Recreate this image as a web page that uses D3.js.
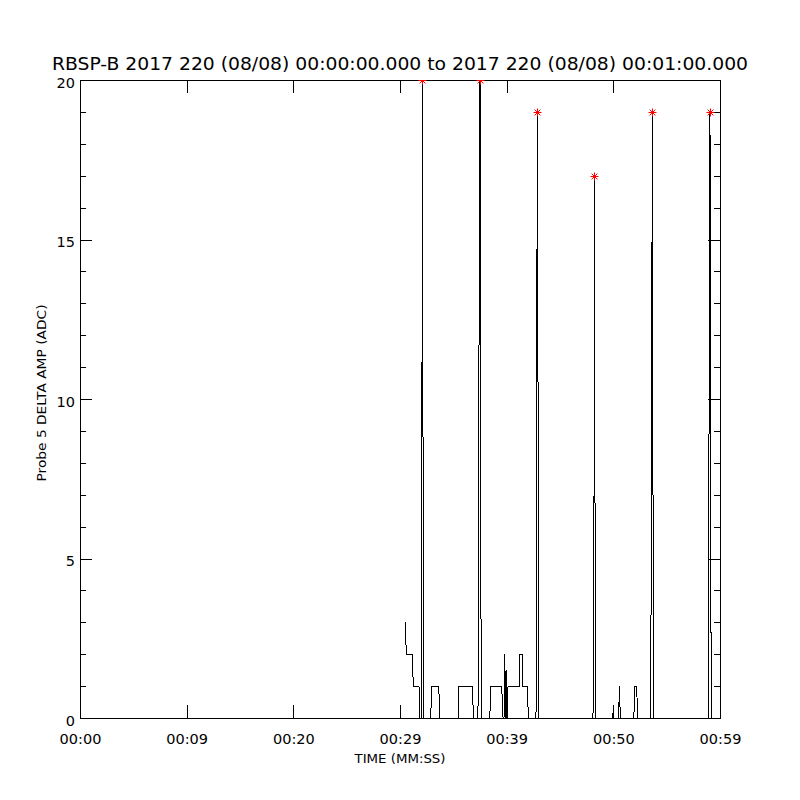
<!DOCTYPE html>
<html>
<head>
<meta charset="utf-8">
<script src="https://cdn.jsdelivr.net/npm/d3@7"></script>
<style>
  body { margin: 0; background: #fff; }
  text { font-family: "DejaVu Sans", sans-serif; fill: #000; }
</style>
</head>
<body>
<div id="chart"></div>
<script>
// time in seconds since 00:00:00 and probe 5 delta amplitude (ADC), vertices
const times = [
  30.50, 30.59, 31.15, 31.25, 31.78, 31.84,
  31.99, 32.03, 32.08, 32.10, 32.19, 32.23,
  32.88, 32.97, 33.63, 33.75,
  35.44, 35.48, 36.78, 36.89,
  37.31, 37.37, 37.46, 37.56, 37.59, 37.63,
  38.42, 38.50, 39.53, 39.66, 39.75, 39.80, 39.86, 39.94, 39.99, 40.13,
  41.16, 41.20, 41.47, 41.51, 41.91, 42.05,
  42.75, 42.83, 42.87, 42.92, 42.98,
  48.09, 48.13, 48.19, 48.22, 48.28, 48.33,
  49.95, 50.00, 50.04,
  50.48, 50.53, 50.58, 50.65,
  51.92, 51.97, 52.01, 52.17, 52.24, 52.29,
  53.47, 53.50, 53.58, 53.65, 53.72, 53.77, 53.81,
  58.88, 58.93, 59.03, 59.06, 59.12, 59.16, 59.21, 59.25
];
const amps = [
  3, 2, 2, 1, 1, 0,
  0, 8, 12.5, 20, 2.5, 0,
  0, 1, 1, 0,
  0, 1, 1, 0,
  0, 5.5, 20, 20, 3.5, 0,
  0, 1, 1, 0, 0, 2, 0, 1.5, 0, 1,
  1, 2, 2, 1, 1, 0,
  0, 12, 19, 15, 0,
  0, 1.3, 7, 17, 7, 0,
  0, 0.4, 0,
  0, 0.5, 1, 0,
  0, 0.5, 1, 1, 0.5, 0,
  0, 0.5, 7, 19, 7, 1.5, 0,
  0, 5, 14.5, 19, 5, 2.5, 0, 0
];

// peaks flagged with red asterisks
const peakTimes = [32.10, 37.50, 42.87, 48.22, 53.65, 59.06];
const peakAmps = [20, 20, 19, 17, 19, 19];

const xTickSeconds = [0, 10, 20, 30, 40, 50, 60];
const xTickLabels = ["00:00", "00:09", "00:20", "00:29", "00:39", "00:50", "00:59"];
const yTicks = [0, 5, 10, 15, 20];

const width = 800;
const height = 800;
const margin = { top: 80, right: 80, bottom: 82, left: 80 };

const svg = d3.select("#chart")
  .append("svg")
  .attr("width", width)
  .attr("height", height);

const x = d3.scaleLinear()
  .domain([0, 60])
  .range([margin.left, width - margin.right]);

const y = d3.scaleLinear()
  .domain([0, 20])
  .range([height - margin.bottom, margin.top]);

svg.append("defs").append("clipPath")
  .attr("id", "plot-clip")
  .append("rect")
  .attr("x", margin.left)
  .attr("y", margin.top)
  .attr("width", width - margin.left - margin.right)
  .attr("height", height - margin.top - margin.bottom);

// axes: ticks point inward like the IDL plot
const xAxisBottom = svg.append("g")
  .attr("transform", `translate(0,${height - margin.bottom})`)
  .call(d3.axisBottom(x).tickValues(xTickSeconds)
    .tickFormat((d, i) => xTickLabels[i]).tickSize(-13).tickPadding(16));

const xAxisTop = svg.append("g")
  .attr("transform", `translate(0,${margin.top})`)
  .call(d3.axisTop(x).tickValues(xTickSeconds).tickFormat("").tickSize(-13));

const yAxisLeft = svg.append("g")
  .attr("transform", `translate(${margin.left},0)`)
  .call(d3.axisLeft(y).tickValues(yTicks).tickSize(-12).tickPadding(5));

const yMinorLeft = svg.append("g")
  .attr("transform", `translate(${margin.left},0)`)
  .call(d3.axisLeft(y).ticks(20).tickFormat("").tickSize(-6));

const yAxisRight = svg.append("g")
  .attr("transform", `translate(${width - margin.right},0)`)
  .call(d3.axisRight(y).tickValues(yTicks).tickFormat("").tickSize(-12));

const yMinorRight = svg.append("g")
  .attr("transform", `translate(${width - margin.right},0)`)
  .call(d3.axisRight(y).ticks(20).tickFormat("").tickSize(-6));

[xAxisBottom, xAxisTop, yAxisLeft, yMinorLeft, yAxisRight, yMinorRight].forEach(g => {
  g.select(".domain").remove();
  g.selectAll("line").attr("stroke", "#000").attr("shape-rendering", "crispEdges");
  g.selectAll("text").attr("font-family", "DejaVu Sans").attr("font-size", 14.5).attr("fill", "#000");
});

// y labels sit a touch below their ticks in the original
yAxisLeft.selectAll("text").attr("dy", "0.5em");

// plot frame
svg.append("rect")
  .attr("x", margin.left + 0.5)
  .attr("y", margin.top + 0.5)
  .attr("width", width - margin.left - margin.right)
  .attr("height", height - margin.top - margin.bottom)
  .attr("fill", "none")
  .attr("stroke", "#000")
  .attr("shape-rendering", "crispEdges");

const line = d3.line()
  .x((d, i) => x(times[i]))
  .y(d => y(d));

svg.append("path")
  .datum(amps)
  .attr("clip-path", "url(#plot-clip)")
  .attr("d", line)
  .attr("fill", "none")
  .attr("stroke", "#000")
  .attr("stroke-width", 1)
  .attr("shape-rendering", "crispEdges");

// IDL-style asterisk markers
const r = 4;
const k = r * 0.72;
const asterisk = `M${-r},0H${r}M0,${-r}V${r}M${-k},${-k}L${k},${k}M${-k},${k}L${k},${-k}`;

svg.append("g")
  .attr("clip-path", "url(#plot-clip)")
  .selectAll("path")
  .data(peakTimes)
  .enter()
  .append("path")
  .attr("transform", (d, i) => `translate(${Math.round(x(d)) + 0.5},${Math.round(y(peakAmps[i])) + 0.5})`)
  .attr("d", asterisk)
  .attr("fill", "none")
  .attr("stroke", "#ff0000")
  .attr("stroke-width", 1);

svg.append("text")
  .attr("x", width / 2)
  .attr("y", 70)
  .attr("text-anchor", "middle")
  .attr("font-size", 18.5)
  .attr("textLength", 696)
  .attr("lengthAdjust", "spacingAndGlyphs")
  .text("RBSP-B 2017 220 (08/08) 00:00:00.000 to 2017 220 (08/08) 00:01:00.000");

svg.append("text")
  .attr("x", width / 2)
  .attr("y", 763)
  .attr("text-anchor", "middle")
  .attr("font-size", 13)
  .attr("textLength", 91)
  .attr("lengthAdjust", "spacingAndGlyphs")
  .text("TIME (MM:SS)");

svg.append("text")
  .attr("transform", "translate(46,393) rotate(-90)")
  .attr("text-anchor", "middle")
  .attr("font-size", 13)
  .attr("textLength", 177)
  .attr("lengthAdjust", "spacingAndGlyphs")
  .text("Probe 5 DELTA AMP (ADC)");
</script>
</body>
</html>
